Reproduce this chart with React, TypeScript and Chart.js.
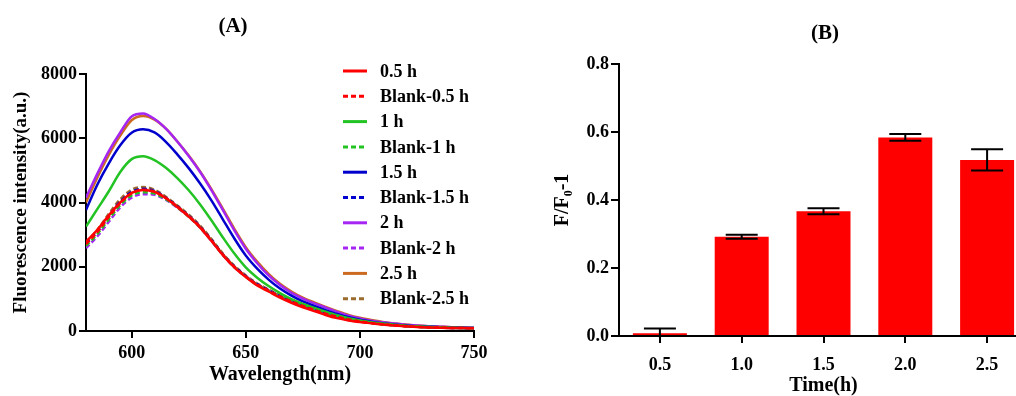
import React, { useEffect, useRef } from 'react';
import { Chart, registerables } from 'chart.js';

Chart.register(...registerables);

// ---------- Panel A data ----------
const wavelengths = [580, 585, 590, 595, 600, 605, 610, 615, 620, 625, 630, 635, 640, 645, 650, 655, 660, 665, 670, 675, 680, 685, 690, 695, 700, 705, 710, 715, 720, 725, 730, 735, 740, 745, 750];

const h05 = [2780, 3150, 3600, 4000, 4300, 4390, 4330, 4130, 3860, 3560, 3220, 2800, 2360, 1980, 1680, 1420, 1230, 1040, 880, 740, 620, 500, 400, 330, 280, 240, 200, 170, 145, 125, 110, 100, 95, 90, 85];
const blank05 = [2700, 3080, 3550, 3980, 4280, 4400, 4340, 4140, 3880, 3580, 3240, 2820, 2380, 2000, 1700, 1450, 1260, 1080, 920, 780, 660, 540, 440, 360, 300, 250, 210, 180, 150, 130, 115, 105, 95, 90, 85];
const h1 = [3250, 3800, 4350, 4950, 5350, 5440, 5320, 5080, 4760, 4380, 3940, 3440, 2910, 2410, 1980, 1660, 1400, 1180, 990, 840, 720, 600, 490, 400, 330, 275, 230, 195, 165, 145, 130, 115, 105, 95, 90];
const blank1 = [2650, 3020, 3480, 3920, 4220, 4320, 4280, 4100, 3850, 3560, 3220, 2810, 2370, 1990, 1690, 1440, 1250, 1070, 910, 770, 650, 530, 430, 350, 295, 245, 205, 175, 150, 130, 115, 105, 95, 90, 85];
const h15 = [3770, 4560, 5220, 5780, 6170, 6280, 6180, 5890, 5500, 5070, 4590, 4060, 3470, 2880, 2350, 1940, 1600, 1320, 1100, 920, 780, 650, 530, 430, 350, 290, 240, 205, 175, 150, 135, 120, 110, 100, 95];
const blank15 = [2720, 3100, 3580, 4030, 4330, 4430, 4360, 4150, 3880, 3590, 3250, 2830, 2380, 2010, 1710, 1460, 1270, 1090, 930, 790, 670, 550, 450, 370, 305, 255, 215, 180, 155, 135, 120, 105, 95, 90, 85];
const h2 = [4150, 4900, 5600, 6180, 6680, 6770, 6600, 6300, 5900, 5450, 4950, 4380, 3760, 3130, 2560, 2110, 1730, 1430, 1190, 1010, 860, 730, 590, 480, 390, 320, 270, 230, 195, 170, 150, 135, 120, 110, 100];
const blank2 = [2580, 2950, 3400, 3850, 4150, 4260, 4240, 4080, 3840, 3560, 3220, 2800, 2360, 1980, 1700, 1450, 1260, 1080, 920, 780, 660, 540, 440, 360, 300, 250, 210, 180, 150, 130, 115, 105, 95, 90, 85];
const h25 = [4000, 4780, 5480, 6080, 6560, 6690, 6580, 6300, 5900, 5460, 4970, 4410, 3800, 3180, 2610, 2160, 1780, 1470, 1230, 1040, 890, 750, 620, 500, 410, 340, 280, 235, 200, 175, 150, 135, 120, 110, 100];
const blank25 = [2750, 3150, 3650, 4100, 4400, 4480, 4400, 4180, 3910, 3620, 3280, 2860, 2410, 2030, 1730, 1480, 1290, 1100, 940, 800, 680, 560, 460, 375, 310, 260, 220, 185, 155, 135, 120, 105, 95, 90, 85];

const seriesNames = ['0.5 h', 'Blank-0.5 h', '1 h', 'Blank-1 h', '1.5 h', 'Blank-1.5 h', '2 h', 'Blank-2 h', '2.5 h', 'Blank-2.5 h'];
const seriesValues = [h05, blank05, h1, blank1, h15, blank15, h2, blank2, h25, blank25];
const seriesColors = ['#FF0000', '#FF0000', '#22C322', '#22C322', '#0000CC', '#0000CC', '#A526F2', '#A526F2', '#CC6A22', '#9C6B2E'];
const seriesDashed = [false, true, false, true, false, true, false, true, false, true];

const xTicksA = [600, 650, 700, 750];

// ---------- Panel B data ----------
const timeLabels = ['0.5', '1.0', '1.5', '2.0', '2.5'];
const ratioValues = [0.008, 0.292, 0.367, 0.584, 0.518];
const ratioErrors = [0.014, 0.006, 0.009, 0.01, 0.031];

const FONT = '"Liberation Serif", "Times New Roman", serif';

const panelTitle = {
  id: 'panelTitle',
  afterDraw(chart: any, _args: any, opts: any) {
    const ctx = chart.ctx;
    ctx.save();
    ctx.font = `bold ${opts.size}px ${FONT}`;
    ctx.fillStyle = '#000';
    ctx.textAlign = 'center';
    ctx.textBaseline = 'middle';
    ctx.fillText(opts.text, opts.x, opts.y);
    ctx.restore();
  },
};

const lineLegend = {
  id: 'lineLegend',
  afterDraw(chart: any, _args: any, opts: any) {
    const ctx = chart.ctx;
    ctx.save();
    ctx.font = `bold ${opts.size}px ${FONT}`;
    ctx.textBaseline = 'middle';
    ctx.textAlign = 'left';
    chart.data.datasets.forEach((ds: any, i: number) => {
      const y = opts.y0 + i * opts.step;
      ctx.beginPath();
      ctx.strokeStyle = ds.borderColor;
      ctx.lineWidth = 3;
      ctx.setLineDash(ds.borderDash || []);
      ctx.moveTo(opts.x0, y);
      ctx.lineTo(opts.x0 + opts.w, y);
      ctx.stroke();
      ctx.setLineDash([]);
      ctx.fillStyle = '#000';
      ctx.fillText(ds.label, opts.tx, y + 1);
    });
    ctx.restore();
  },
};

const errorBars = {
  id: 'errorBars',
  afterDatasetsDraw(chart: any, _args: any, opts: any) {
    const ctx = chart.ctx;
    const yScale = chart.scales.y;
    const meta = chart.getDatasetMeta(0);
    ctx.save();
    ctx.strokeStyle = '#000';
    ctx.lineWidth = 2;
    meta.data.forEach((bar: any, i: number) => {
      const v = ratioValues[i];
      const e = ratioErrors[i];
      const yTop = yScale.getPixelForValue(v + e);
      const yBot = yScale.getPixelForValue(v - e);
      const x = bar.x;
      const hw = opts.cap / 2;
      ctx.beginPath();
      ctx.moveTo(x, yTop);
      ctx.lineTo(x, yBot);
      ctx.moveTo(x - hw, yTop);
      ctx.lineTo(x + hw, yTop);
      if (v - e >= 0) {
        ctx.moveTo(x - hw, yBot);
        ctx.lineTo(x + hw, yBot);
      }
      ctx.stroke();
    });
    ctx.restore();
  },
};

const tickFont = { family: FONT, size: 18, weight: 'bold' as const };

export default function App() {
  const refA = useRef<HTMLCanvasElement>(null);
  const refB = useRef<HTMLCanvasElement>(null);

  useEffect(() => {
    const datasets = seriesValues.map((vals, i) => ({
      label: seriesNames[i],
      data: vals.map((v, j) => ({ x: wavelengths[j], y: v })),
      borderColor: seriesColors[i],
      backgroundColor: seriesColors[i],
      borderWidth: 2.5,
      borderDash: seriesDashed[i] ? [5, 3] : [],
      pointRadius: 0,
      cubicInterpolationMode: 'monotone',
      fill: false,
    }));

    const chartA = new Chart(refA.current!, {
      type: 'line',
      data: { datasets },
      plugins: [panelTitle, lineLegend],
      options: {
        animation: false,
        responsive: false,
        maintainAspectRatio: false,
        layout: { padding: { left: 0, right: 36, top: 74, bottom: 0 } },
        plugins: {
          legend: { display: false },
          tooltip: { enabled: false },
          title: { display: false },
          panelTitle: { text: '(A)', x: 233, y: 27, size: 21 },
          lineLegend: { x0: 343, w: 24, tx: 380, y0: 71, step: 25.3, size: 18 },
        } as any,
        scales: {
          x: {
            type: 'linear',
            min: 580,
            max: 750,
            afterBuildTicks: (scale: any) => {
              scale.ticks = xTicksA.map((v) => ({ value: v }));
            },
            afterFit: (scale: any) => {
              scale.height = 65;
            },
            grid: { display: true, drawOnChartArea: false, drawTicks: true, tickLength: 7, color: '#000', lineWidth: 2 },
            border: { display: true, color: '#000', width: 2 },
            ticks: { color: '#000', font: tickFont, padding: 5, maxRotation: 0, callback: (v: any) => String(v) },
            title: { display: true, text: 'Wavelength(nm)', color: '#000', font: { family: FONT, size: 20, weight: 'bold' }, padding: { bottom: 9 } },
          },
          y: {
            type: 'linear',
            min: 0,
            max: 8000,
            ticks: { stepSize: 2000, color: '#000', font: tickFont, padding: 2, callback: (v: any) => String(v) },
            afterFit: (scale: any) => {
              scale.width = 86;
            },
            grid: { display: true, drawOnChartArea: false, drawTicks: true, tickLength: 7, color: '#000', lineWidth: 2 },
            border: { display: true, color: '#000', width: 2 },
            title: { display: true, text: 'Fluorescence intensity(a.u.)', color: '#000', font: { family: FONT, size: 19, weight: 'bold' }, padding: { top: 10 } },
          },
        },
      } as any,
    });

    const chartB = new Chart(refB.current!, {
      type: 'bar',
      data: {
        labels: timeLabels,
        datasets: [
          {
            label: 'F/F0-1',
            data: ratioValues,
            backgroundColor: '#FF0000',
            borderWidth: 0,
            barPercentage: 0.66,
            categoryPercentage: 1.0,
          },
        ],
      },
      plugins: [panelTitle, errorBars],
      options: {
        animation: false,
        responsive: false,
        maintainAspectRatio: false,
        layout: { padding: { left: 0, right: 12, top: 64, bottom: 0 } },
        plugins: {
          legend: { display: false },
          tooltip: { enabled: false },
          title: { display: false },
          panelTitle: { text: '(B)', x: 315, y: 34, size: 21 },
          errorBars: { cap: 32 },
        } as any,
        scales: {
          x: {
            type: 'category',
            afterFit: (scale: any) => {
              scale.height = 60;
            },
            grid: { display: true, offset: false, drawOnChartArea: false, drawTicks: true, tickLength: 7, color: '#000', lineWidth: 2 },
            border: { display: true, color: '#000', width: 2 },
            ticks: { color: '#000', font: tickFont, padding: 12, maxRotation: 0 },
            title: { display: true, text: 'Time(h)', color: '#000', font: { family: FONT, size: 20, weight: 'bold' }, padding: { bottom: -2 } },
          },
          y: {
            type: 'linear',
            min: 0,
            max: 0.8,
            ticks: { stepSize: 0.2, color: '#000', font: tickFont, padding: 2, callback: (v: any) => Number(v).toFixed(1) },
            afterFit: (scale: any) => {
              scale.width = 109;
            },
            grid: { display: true, drawOnChartArea: false, drawTicks: true, tickLength: 8, color: '#000', lineWidth: 2 },
            border: { display: true, color: '#000', width: 2 },
            title: { display: true, text: 'F/F\u2080-1', color: '#000', font: { family: FONT, size: 20, weight: 'bold' }, padding: { top: 41 } },
          },
        },
      } as any,
    });

    return () => {
      chartA.destroy();
      chartB.destroy();
    };
  }, []);

  return (
    <div style={{ position: 'absolute', left: 0, top: 0, width: 1016, height: 396, overflow: 'hidden', background: '#fff' }}>
      <canvas ref={refA} width={510} height={396} style={{ position: 'absolute', left: 0, top: 0, width: 510, height: 396 }} />
      <canvas ref={refB} width={530} height={396} style={{ position: 'absolute', left: 510, top: 0, width: 530, height: 396 }} />
    </div>
  );
}
